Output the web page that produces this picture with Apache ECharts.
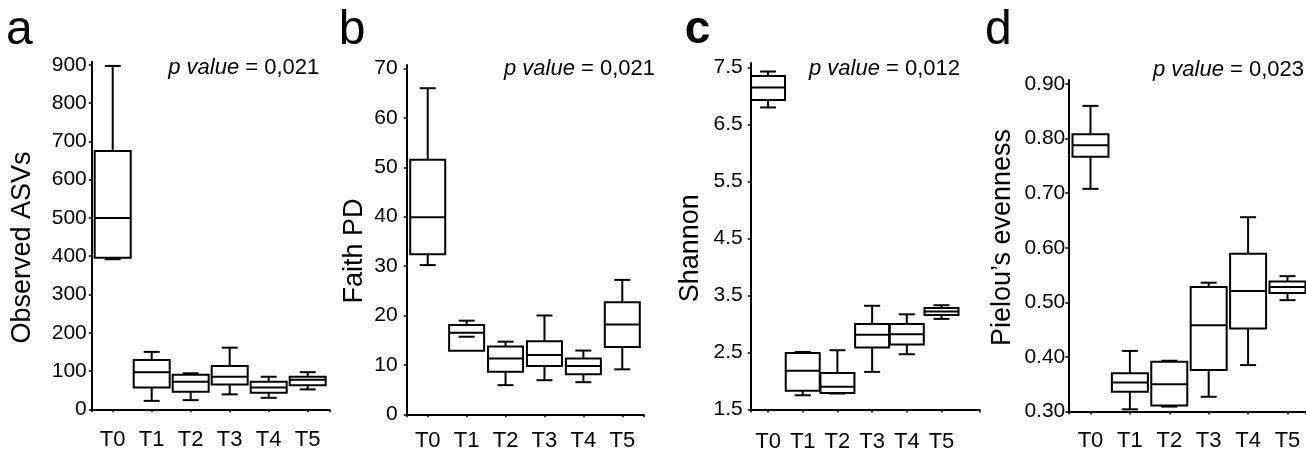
<!DOCTYPE html>
<html><head><meta charset="utf-8">
<script src="https://cdn.jsdelivr.net/npm/echarts@6/dist/echarts.min.js"></script>
<style>html,body{margin:0;padding:0;background:#fff}#c{width:1306px;height:453px}</style>
</head><body><div id="c"></div>
<script>
const categories = ['T0','T1','T2','T3','T4','T5'];
// each box: [min, Q1, median, Q3, max]
const observedASVs = [[392,396,500,675,897],[22,57,97,129,150],[24,46,72,90,94],[39,65,85,113,161],[30,43,57,72,85],[52,63,77,85,97]];
const faithPD = [[30.2,32.4,39.9,51.5,66.0],[15.7,12.87,16.5,18.1,18.95],[5.9,8.6,11.3,13.7,14.7],[6.9,9.8,12.0,14.8,20.0],[6.5,8.1,9.8,11.3,12.9],[9.1,13.6,18.2,22.7,27.2]];
const shannon = [[6.80,6.93,7.15,7.35,7.43],[1.75,1.83,2.18,2.49,2.51],[1.78,1.79,1.90,2.14,2.54],[2.16,2.59,2.81,3.00,3.32],[2.47,2.64,2.82,3.00,3.17],[3.09,3.16,3.22,3.28,3.33]];
const pielou = [[0.708,0.767,0.788,0.808,0.860],[0.304,0.336,0.353,0.370,0.411],[0.309,0.311,0.350,0.391,0.393],[0.327,0.376,0.458,0.528,0.536],[0.385,0.452,0.521,0.589,0.656],[0.504,0.517,0.528,0.538,0.548]];
const yTicksA = [0,100,200,300,400,500,600,700,800,900];
const yTicksB = [0,10,20,30,40,50,60,70];
const yTicksC = [1.5,2.5,3.5,4.5,5.5,6.5,7.5];
const yTicksD = [0.30,0.40,0.50,0.60,0.70,0.80,0.90];
const pValues = ['0,021','0,021','0,012','0,023'];
const panelLetters = ['a','b','c','d'];
const yTitles = ['Observed ASVs','Faith PD','Shannon','Pielou\u2019s evenness'];

const FONT = "'Liberation Sans', Arial, sans-serif";
const panels = [
  {data: observedASVs, ticks: yTicksA, dec: 0, grid:{left:91.8, top:61.7, width:237.5, height:347.6}, ymin:0, ymax:908, xmin:-0.536, xmax:5.554, ylm:5, xlm:20, boxW:36,
   letterX:6, letterBold:false, titleX:22.1, titleY:247.5, pRight:319.3, pY:67.5},
  {data: faithPD, ticks: yTicksB, dec: 0, grid:{left:406.7, top:65, width:236.6, height:349.3}, ymin:0, ymax:70.7, xmin:-0.54, xmax:5.54, ylm:9, xlm:15.5, boxW:35,
   letterX:338.7, letterBold:false, titleX:354.6, titleY:251, pRight:655, pY:69},
  {data: shannon, ticks: yTicksC, dec: 1, grid:{left:750.7, top:63, width:228.6, height:346.5}, ymin:1.5, ymax:7.58, xmin:-0.5, xmax:6.09, ylm:8, xlm:21, boxW:34,
   letterX:684.7, letterBold:true, titleX:690.3, titleY:248.3, pRight:960, pY:68.5},
  {data: pielou, ticks: yTicksD, dec: 2, grid:{left:1068.3, top:80, width:237.7, height:331.5}, ymin:0.3, ymax:0.9074, xmin:-0.563, xmax:5.47, ylm:3, xlm:18.5, boxW:36,
   letterX:985, letterBold:false, titleX:1002.2, titleY:237.5, pRight:1304, pY:70}
];

function boxRender(boxW, capW) {
  return function (params, api) {
    const x = api.value(0);
    const p = [1,2,3,4,5].map(k => api.coord([x, api.value(k)]));
    const cx = p[0][0];
    const yMin = p[0][1], yQ1 = p[1][1], yMed = p[2][1], yQ3 = p[3][1], yMax = p[4][1];
    const ln = (x1,y1,x2,y2) => ({type:'line', shape:{x1,y1,x2,y2}, style:{stroke:'#000', lineWidth:2, fill:null}});
    return {type:'group', children:[
      ln(cx, yQ3, cx, yMax),
      ln(cx, yQ1, cx, yMin),
      {type:'rect', shape:{x:cx-boxW/2, y:yQ3, width:boxW, height:yQ1-yQ3}, style:{fill:'#fff', stroke:'#000', lineWidth:2}},
      ln(cx-boxW/2, yMed, cx+boxW/2, yMed),
      ln(cx-capW/2, yMax, cx+capW/2, yMax),
      ln(cx-capW/2, yMin, cx+capW/2, yMin)
    ]};
  };
}

const grids = [], xAxes = [], yAxes = [], series = [], graphics = [];
panels.forEach((pn, i) => {
  grids.push(Object.assign({containLabel:false}, pn.grid));
  xAxes.push({
    gridIndex:i, type:'value', min:pn.xmin, max:pn.xmax,
    axisLine:{show:true, onZero:false, lineStyle:{color:'#000', width:2}},
    axisTick:{show:true, length:3, lineStyle:{color:'#000', width:1.5}, customValues:[pn.xmin,0,1,2,3,4,5,pn.xmax]},
    axisLabel:{customValues:[0,1,2,3,4,5], formatter:v => categories[Math.round(v)], color:'#000', fontSize:22, fontFamily:FONT, margin:pn.xlm},
    splitLine:{show:false}
  });
  yAxes.push({
    gridIndex:i, type:'value', min:pn.ymin, max:pn.ymax,
    axisLine:{show:true, onZero:false, lineStyle:{color:'#000', width:2}},
    axisTick:{show:true, length:3, lineStyle:{color:'#000', width:1.5}, customValues:pn.ticks},
    axisLabel:{customValues:pn.ticks, formatter:v => Number(v).toFixed(pn.dec), color:'#000', fontSize:21, fontFamily:FONT, margin:pn.ylm},
    splitLine:{show:false}
  });
  series.push({
    type:'custom', xAxisIndex:i, yAxisIndex:i, clip:false,
    data: pn.data.map((v, k) => [k].concat(v)),
    encode:{x:0, y:[1,2,3,4,5]},
    renderItem: boxRender(pn.boxW, 16)
  });
  graphics.push({type:'text', x:pn.letterX, y:30.6, style:{text:panelLetters[i], fontSize:pn.letterBold?46:48, fontWeight:pn.letterBold?'bold':'normal', fontFamily:FONT, fill:'#000', align:'left', verticalAlign:'middle', textAlign:'left', textVerticalAlign:'middle'}});
  graphics.push({type:'text', x:pn.titleX, y:pn.titleY, rotation:Math.PI/2, style:{text:yTitles[i], fontSize:27, fontFamily:FONT, fill:'#000', align:'center', verticalAlign:'middle', textAlign:'center', textVerticalAlign:'middle'}});
  graphics.push({type:'text', x:pn.pRight, y:pn.pY, style:{text:'{i|p value} = ' + pValues[i], fontSize:22, fontFamily:FONT, fill:'#000', align:'right', verticalAlign:'middle', textAlign:'right', textVerticalAlign:'middle',
    rich:{i:{fontStyle:'italic', fontSize:22, fontFamily:FONT, fill:'#000'}}}});
});

const chart = echarts.init(document.getElementById('c'), null, {renderer:'canvas'});
chart.setOption({
  animation:false, backgroundColor:'#fff',
  grid:grids, xAxis:xAxes, yAxis:yAxes, series:series, graphic:graphics
});
</script></body></html>
